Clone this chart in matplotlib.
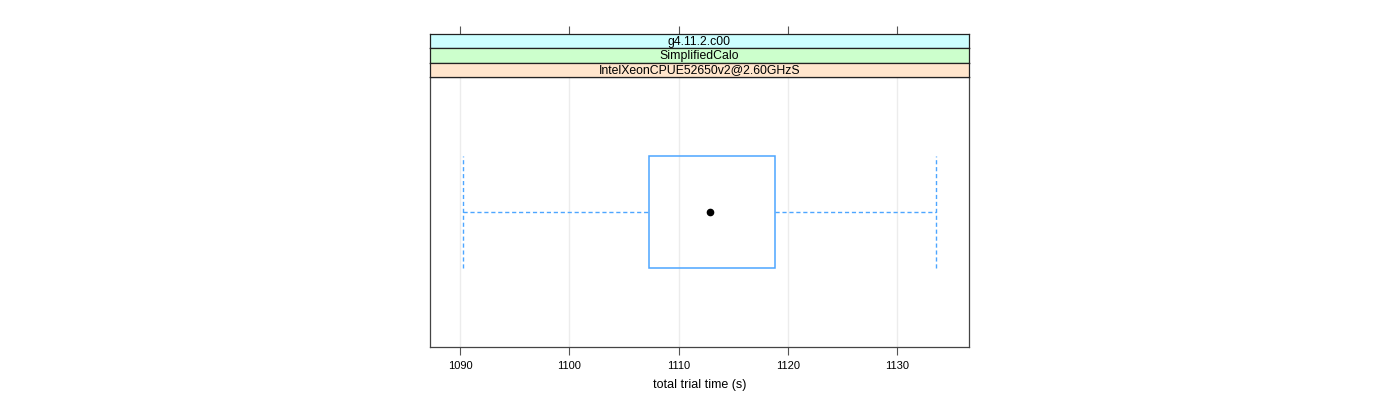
import matplotlib
matplotlib.use("Agg")
import matplotlib.pyplot as plt
from matplotlib.patches import Rectangle

plt.rcParams['font.family'] = ['Liberation Sans', 'DejaVu Sans']

strip_labels = ["g4.11.2.c00", "SimplifiedCalo", "IntelXeonCPUE52650v2@2.60GHzS"]
strip_colors = ["#ccffff", "#ccffcc", "#ffe5cc"]
# box stats: lower whisker, Q1, median, Q3, upper whisker
stats = dict(whislo=1090.3, q1=1107.3, med=1112.85, q3=1118.8, whishi=1133.55)
xticks = [1090, 1100, 1110, 1120, 1130]
xlabel = "total trial time (s)"

W, H = 1400, 400
fig = plt.figure(figsize=(W/100, H/100), dpi=100)
L, R = 430/W, 969/W
ax = fig.add_axes([L, (H-347)/H, R-L, (347-77)/H])
ax.set_xlim(1087.26, 1136.57)
ax.set_ylim(0.4, 1.6)

for t in xticks:
    ax.axvline(t, color="#ececec", lw=1, zorder=0)

col = "#4da6ff"
y0, hw = 1.0, 0.25
ax.add_patch(Rectangle((stats['q1'], y0-hw), stats['q3']-stats['q1'], 2*hw,
                       fill=False, ec=col, lw=1.1, zorder=2))
ax.plot([stats['whislo'], stats['q1']], [y0, y0], ls=(0, (3, 2)), color=col, lw=1)
ax.plot([stats['q3'], stats['whishi']], [y0, y0], ls=(0, (3, 2)), color=col, lw=1)
for w in (stats['whislo'], stats['whishi']):
    ax.plot([w, w], [y0-hw, y0+hw], ls=(0, (3, 2)), color=col, lw=1)
ax.plot([stats['med']], [y0], 'o', color='black', ms=4.5, zorder=3)

ax.set_yticks([])
ax.set_xticks(xticks)
ax.set_xticklabels([str(t) for t in xticks], fontsize=8)
ax.tick_params(axis='x', direction='out', length=6, color='#555555', pad=4)
for s in ax.spines.values():
    s.set_color('#444444')
    s.set_linewidth(0.9)
ax.set_xlabel(xlabel, fontsize=9, labelpad=6)

# strips
edges = [34, 48.3, 62.7, 77]
for i, (lab, c) in enumerate(zip(strip_labels, strip_colors)):
    top, bot = edges[i], edges[i+1]
    sax = fig.add_axes([L, (H-bot)/H, R-L, (bot-top)/H])
    sax.set_xlim(ax.get_xlim())
    sax.set_facecolor(c)
    sax.set_yticks([])
    if i == 0:
        sax.set_xticks(xticks)
        sax.xaxis.tick_top()
        sax.tick_params(axis='x', direction='out', length=6, color='#555555', labeltop=False)
    else:
        sax.set_xticks([])
    for s in sax.spines.values():
        s.set_color('#222222')
        s.set_linewidth(0.9)
    sax.text(0.5, 0.45, lab, transform=sax.transAxes, ha='center', va='center', fontsize=8.8)

fig.savefig("out.png", dpi=100)
